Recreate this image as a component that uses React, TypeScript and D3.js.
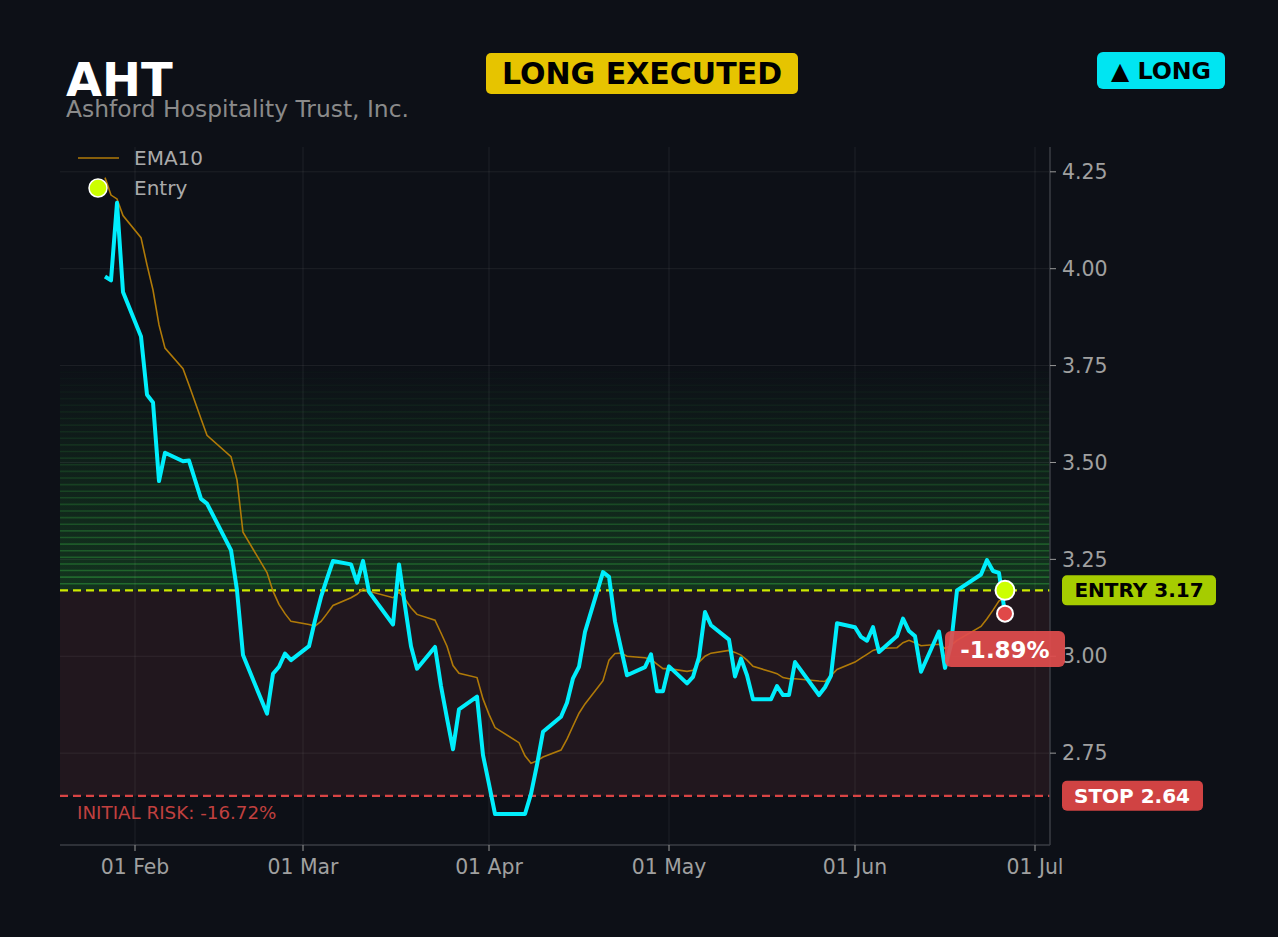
import * as d3 from "d3";

// trading days (2026), close and EMA10
const dates = [
  "2026-01-27", "2026-01-28", "2026-01-29", "2026-01-30", "2026-02-02", "2026-02-03", "2026-02-04",
  "2026-02-05", "2026-02-06", "2026-02-09", "2026-02-10", "2026-02-12", "2026-02-13", "2026-02-17",
  "2026-02-18", "2026-02-19", "2026-02-23", "2026-02-24", "2026-02-25", "2026-02-26", "2026-02-27",
  "2026-03-02", "2026-03-03", "2026-03-04", "2026-03-05", "2026-03-06", "2026-03-09", "2026-03-10",
  "2026-03-11", "2026-03-12", "2026-03-16", "2026-03-17", "2026-03-18", "2026-03-19", "2026-03-20",
  "2026-03-23", "2026-03-24", "2026-03-25", "2026-03-26", "2026-03-27", "2026-03-30", "2026-03-31",
  "2026-04-01", "2026-04-02", "2026-04-06", "2026-04-07", "2026-04-08", "2026-04-09", "2026-04-10",
  "2026-04-13", "2026-04-14", "2026-04-15", "2026-04-16", "2026-04-17", "2026-04-20", "2026-04-21",
  "2026-04-22", "2026-04-23", "2026-04-24", "2026-04-27", "2026-04-28", "2026-04-29", "2026-04-30",
  "2026-05-01", "2026-05-04", "2026-05-05", "2026-05-06", "2026-05-07", "2026-05-08", "2026-05-11",
  "2026-05-12", "2026-05-13", "2026-05-14", "2026-05-15", "2026-05-18", "2026-05-19", "2026-05-20",
  "2026-05-21", "2026-05-22", "2026-05-26", "2026-05-27", "2026-05-28", "2026-05-29", "2026-06-01",
  "2026-06-02", "2026-06-03", "2026-06-04", "2026-06-05", "2026-06-08", "2026-06-09", "2026-06-10",
  "2026-06-11", "2026-06-12", "2026-06-15", "2026-06-16", "2026-06-17", "2026-06-18", "2026-06-22",
  "2026-06-23", "2026-06-24", "2026-06-25", "2026-06-26",
];

const close = [
  3.98, 3.97, 4.17, 3.94, 3.825, 3.675, 3.655,
  3.452, 3.525, 3.503, 3.505, 3.406, 3.394, 3.274,
  3.17, 3.003, 2.852, 2.955, 2.973, 3.007, 2.99,
  3.026, 3.093, 3.153, 3.2, 3.246, 3.237, 3.19,
  3.246, 3.166, 3.082, 3.237, 3.13, 3.026, 2.968,
  3.024, 2.923, 2.84, 2.76, 2.863, 2.896, 2.745,
  2.67, 2.593, 2.593, 2.593, 2.645, 2.72, 2.805,
  2.844, 2.88, 2.943, 2.973, 3.063, 3.217, 3.205,
  3.09, 3.02, 2.951, 2.972, 3.005, 2.91, 2.91,
  2.974, 2.93, 2.947, 2.998, 3.114, 3.08, 3.043,
  2.948, 2.994, 2.951, 2.889, 2.889, 2.923, 2.9,
  2.9, 2.985, 2.9, 2.92, 2.95, 3.085, 3.075,
  3.05, 3.04, 3.075, 3.011, 3.052, 3.097, 3.065,
  3.052, 2.96, 3.064, 2.97, 3.03, 3.17, 3.211,
  3.248, 3.22, 3.215, 3.11,
];

const ema10 = [
  4.235, 4.19, 4.18, 4.137, 4.08, 4.01, 3.945,
  3.855, 3.795, 3.742, 3.7, 3.613, 3.57, 3.515,
  3.455, 3.32, 3.216, 3.168, 3.134, 3.11, 3.09,
  3.082, 3.078, 3.09, 3.11, 3.131, 3.151, 3.16,
  3.174, 3.168, 3.151, 3.165, 3.148, 3.125, 3.108,
  3.093, 3.06, 3.026, 2.976, 2.956, 2.945, 2.89,
  2.85, 2.816, 2.777, 2.743, 2.724, 2.73, 2.74,
  2.758, 2.786, 2.82, 2.853, 2.877, 2.937, 2.99,
  3.007, 3.008, 3.0, 2.996, 2.992, 2.98, 2.968,
  2.968, 2.961, 2.964, 2.985, 3.0, 3.008, 3.015,
  3.01, 3.003, 2.99, 2.974, 2.96, 2.955, 2.945,
  2.942, 2.942, 2.936, 2.935, 2.95, 2.966, 2.985,
  2.995, 3.005, 3.015, 3.02, 3.022, 3.035, 3.041,
  3.035, 3.027, 3.031, 3.02, 3.028, 3.041, 3.077,
  3.097, 3.119, 3.143, 3.147,
];

const yTicks = [2.75, 3.0, 3.25, 3.5, 3.75, 4.0, 4.25];
const monthTicks = ["2026-02-01", "2026-03-01", "2026-04-01", "2026-05-01", "2026-06-01", "2026-07-01"];

const ticker = "AHT";
const company = "Ashford Hospitality Trust, Inc.";
const entryPrice = 3.17;
const stopPrice = 2.64;
const targetZoneTop = 3.75;
const lastPrice = close[close.length - 1];

const W = 1278;
const H = 937;
const left = 60;
const right = 1050;
const top = 147;
const bottom = 845;
const font = "DejaVu Sans, sans-serif";
const bg = "#0d1017";
const cyan = "#00eefc";

const parse = d3.utcParse("%Y-%m-%d");

export default function App() {
  const x = d3.scaleUtc()
    .domain([new Date(Date.UTC(2026, 0, 19, 12)), new Date(Date.UTC(2026, 6, 3, 12))])
    .range([left, right]);
  const y = d3.scaleLinear().domain([2.513, 4.314]).range([bottom, top]);

  const rows = dates.map((d, i) => ({ date: parse(d) as Date, close: close[i], ema: ema10[i] }));

  const priceLine = d3.line<any>().x(d => x(d.date)).y(d => y(d.close));
  const emaLine = d3.line<any>().x(d => x(d.date)).y(d => y(d.ema));

  const fmtMonth = d3.utcFormat("%d %b");
  const months = monthTicks.map(m => parse(m) as Date);

  // stripes of the profit zone, fading up from the entry line
  const nStripes = 34;
  const stripes = d3.range(1, nStripes + 1).map(i => entryPrice + (targetZoneTop - entryPrice) * i / nStripes);

  const lastX = x(rows[rows.length - 1].date);
  const pct = (lastPrice - entryPrice) / entryPrice * 100;
  const risk = (stopPrice - entryPrice) / entryPrice * 100;

  return (
    <svg width={W} height={H} style={{ position: "fixed", left: 0, top: 0, display: "block" }}
      fontFamily={font}>
      <defs>
        <linearGradient id="zone" x1="0" y1="1" x2="0" y2="0">
          <stop offset="0%" stopColor="#1e7a2c" stopOpacity={0.34} />
          <stop offset="100%" stopColor="#1e7a2c" stopOpacity={0} />
        </linearGradient>
        <clipPath id="plot">
          <rect x={left} y={top} width={right - left} height={bottom - top} />
        </clipPath>
      </defs>
      <rect width={W} height={H} fill={bg} />

      {/* zones */}
      <rect x={left} y={y(entryPrice)} width={right - left} height={y(stopPrice) - y(entryPrice)} fill="#21171e" />
      <rect x={left} y={y(targetZoneTop)} width={right - left} height={y(entryPrice) - y(targetZoneTop)} fill="url(#zone)" />
      {stripes.map((v, i) => (
        <line key={i} x1={left} x2={right} y1={y(v)} y2={y(v)} stroke="#2f9a3c"
          strokeWidth={1.6} strokeOpacity={0.52 * Math.pow(1 - i / nStripes, 1.3) + 0.01} />
      ))}

      {/* grid */}
      {yTicks.map(t => (
        <line key={t} x1={left} x2={right} y1={y(t)} y2={y(t)} stroke="#ffffff" strokeOpacity={0.07} />
      ))}
      {months.map(m => (
        <line key={+m} x1={x(m)} x2={x(m)} y1={top} y2={bottom} stroke="#ffffff" strokeOpacity={0.07} />
      ))}

      {/* entry / stop */}
      <line x1={left} x2={right} y1={y(entryPrice)} y2={y(entryPrice)} stroke="#cde800" strokeWidth={2.2} strokeDasharray="8,5" />
      <line x1={left} x2={right} y1={y(stopPrice)} y2={y(stopPrice)} stroke="#d94444" strokeWidth={2.2} strokeDasharray="8,5" />
      <text x={77} y={y(stopPrice) + 23} fill="#c0403f" fontSize={18.3}>{`INITIAL RISK: ${risk.toFixed(2)}%`}</text>

      {/* series */}
      <g clipPath="url(#plot)">
        <path d={emaLine(rows) as string} fill="none" stroke="#b07a08" strokeWidth={1.6} />
        <path d={priceLine(rows) as string} fill="none" stroke={cyan} strokeWidth={4} strokeLinejoin="round" />
      </g>

      {/* axes */}
      <line x1={left} x2={right} y1={bottom} y2={bottom} stroke="#3a3d44" strokeWidth={1.5} />
      <line x1={right} x2={right} y1={top} y2={bottom} stroke="#3a3d44" strokeWidth={1.5} />
      {months.map(m => (
        <g key={+m} transform={`translate(${x(m)},${bottom})`}>
          <line y2={6} stroke="#999" />
          <text y={29} textAnchor="middle" fill="#a0a0a0" fontSize={20.4}>{fmtMonth(m)}</text>
        </g>
      ))}
      {yTicks.map(t => (
        <g key={t} transform={`translate(${right},${y(t)})`}>
          <line x2={6} stroke="#999" />
          <text x={12} dy="0.35em" fill="#a0a0a0" fontSize={20.5}>{t.toFixed(2)}</text>
        </g>
      ))}

      {/* price tags */}
      <rect x={1062} y={y(entryPrice) - 15} width={154} height={30} rx={5} fill="#a6cc00" />
      <text x={1139} y={y(entryPrice) + 7} textAnchor="middle" fontSize={20} fontWeight="bold" fill="#000">{`ENTRY ${entryPrice.toFixed(2)}`}</text>
      <rect x={1062} y={y(stopPrice) - 15} width={141} height={30} rx={5} fill="#d04343" />
      <text x={1132} y={y(stopPrice) + 7} textAnchor="middle" fontSize={20} fontWeight="bold" fill="#fff">{`STOP ${stopPrice.toFixed(2)}`}</text>

      {/* markers at the last bar */}
      <circle cx={lastX} cy={y(entryPrice)} r={9.5} fill="#ccff00" stroke="#fff" strokeWidth={2} />
      <circle cx={lastX} cy={y(lastPrice)} r={8} fill="#e04848" stroke="#fff" strokeWidth={2} />
      <rect x={lastX - 60} y={631} width={120} height={36} rx={6} fill="#e04c4c" fillOpacity={0.93} />
      <text x={lastX} y={658} textAnchor="middle" fontSize={23} fontWeight="bold" fill="#fff">{`${pct.toFixed(2)}%`}</text>

      {/* legend */}
      <line x1={78} x2={119} y1={158} y2={158} stroke="#b07a08" strokeWidth={1.6} />
      <text x={134} y={165} fill="#aaaaaa" fontSize={20}>EMA10</text>
      <circle cx={98} cy={188} r={9} fill="#ccff00" stroke="#fff" strokeWidth={1.5} />
      <text x={134} y={195} fill="#aaaaaa" fontSize={20}>Entry</text>

      {/* header */}
      <text x={66} y={96} fill="#fff" fontSize={46.5} fontWeight="bold">{ticker}</text>
      <text x={66} y={117} fill="#8a8a8a" fontSize={23.4}>{company}</text>
      <rect x={486} y={53} width={312} height={41} rx={5} fill="#e6c400" />
      <text x={642} y={84} textAnchor="middle" fontSize={30} fontWeight="bold" fill="#000">LONG EXECUTED</text>
      <rect x={1097} y={52} width={128} height={37} rx={6} fill="#00e5f2" />
      <text x={1161} y={79} textAnchor="middle" fontSize={23.7} fontWeight="bold" fill="#000">▲ LONG</text>
    </svg>
  );
}
